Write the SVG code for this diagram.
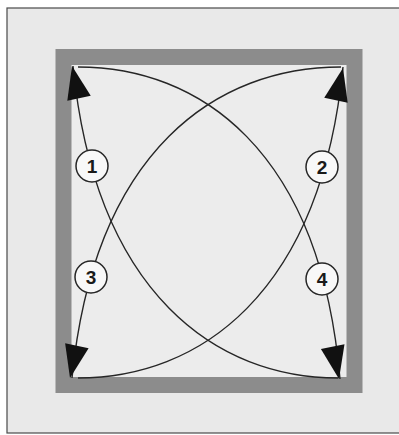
<svg xmlns="http://www.w3.org/2000/svg" width="399" height="435" viewBox="0 0 399 435">
  <style>
    .bg { fill: #e9e9e9; stroke: #4a4a4a; stroke-width: 1.2; }
    .frame { fill: #ececec; stroke: #8c8c8c; stroke-width: 16; }
    .arc { fill: none; stroke: #262626; stroke-width: 1.4; }
    .head { fill: #111; }
    .node circle { fill: #f8f8f8; stroke: #262626; stroke-width: 1.5; }
    .node text { font-family: "Liberation Sans", Arial, sans-serif; font-weight: bold; font-size: 19px; fill: #1a1a1a; text-anchor: middle; }
  </style>
  <defs>
    <path id="ah" d="M0,0 L12,33 L-12,33 Z"/>
  </defs>
  <rect width="399" height="435" fill="#ffffff"/>
  <rect class="bg" x="7" y="8" width="400" height="425"/>
  <rect class="frame" x="63.5" y="57" width="291" height="328"/>

  <g id="connectors">
    <path class="arc" d="M73,66 C96,296 218,378 338,378"/>
    <path class="arc" d="M343,67 C320,296 198,378 78,378"/>
    <path class="arc" d="M72,378 C95,148 218,67 341,67"/>
    <path class="arc" d="M340,379 C320,148 198,67 78,67"/>
    <use href="#ah" class="head" transform="translate(72,66) rotate(-12.3)"/>
    <use href="#ah" class="head" transform="translate(343,68) rotate(12.3)"/>
    <use href="#ah" class="head" transform="translate(70,378) rotate(192)"/>
    <use href="#ah" class="head" transform="translate(339,379) rotate(169)"/>
  </g>

  <g id="node1" class="node">
    <circle cx="92" cy="166" r="16"/>
    <text x="92" y="173">1</text>
  </g>
  <g id="node2" class="node">
    <circle cx="322" cy="167" r="16"/>
    <text x="322" y="174">2</text>
  </g>
  <g id="node3" class="node">
    <circle cx="91" cy="277" r="16"/>
    <text x="91" y="284">3</text>
  </g>
  <g id="node4" class="node">
    <circle cx="322" cy="279" r="16"/>
    <text x="322" y="286">4</text>
  </g>
</svg>
